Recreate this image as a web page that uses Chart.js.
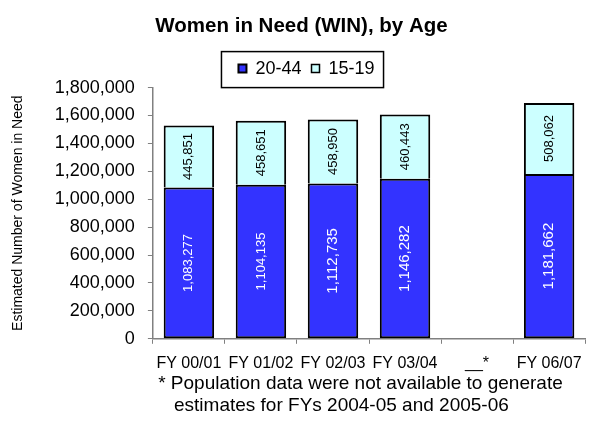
<!DOCTYPE html>
<html>
<head>
<meta charset="utf-8">
<script src="https://cdn.jsdelivr.net/npm/chart.js@4"></script>
<style>
  html, body { margin: 0; padding: 0; background: #fff; }
  #wrap { width: 592px; height: 421px; }
</style>
</head>
<body>
<div id="wrap"><canvas id="chart"></canvas></div>
<script>
const categories = ["FY 00/01", "FY 01/02", "FY 02/03", "FY 03/04", "__*", "FY 06/07"];
const age2044 = [1083277, 1104135, 1112735, 1146282, null, 1181662];
const age1519 = [445851, 458651, 458950, 460443, null, 508062];
const yTicks = [0, 200000, 400000, 600000, 800000, 1000000, 1200000, 1400000, 1600000, 1800000];
const footnote = [" * Population data were not available to generate", "    estimates for FYs 2004-05 and 2005-06"];

const FONT = '"Liberation Sans", Arial, sans-serif';
const fmt = v => v.toLocaleString("en-US");

// label sizes differ a bit per bar in the original
const labelSizes = [[13, 13, 15, 15, 0, 15], [13, 13, 13, 13, 0, 13]];
const labelColors = ["#ffffff", "#000000"];

const valueLabels = {
  id: "valueLabels",
  afterDatasetsDraw(chart) {
    const ctx = chart.ctx;
    chart.data.datasets.forEach((ds, di) => {
      chart.getDatasetMeta(di).data.forEach((bar, i) => {
        const v = ds.data[i];
        if (v == null) return;
        ctx.save();
        ctx.translate(bar.x, (bar.y + bar.base) / 2);
        ctx.rotate(-Math.PI / 2);
        ctx.font = labelSizes[di][i] + "px " + FONT;
        ctx.fillStyle = labelColors[di];
        ctx.textAlign = "center";
        ctx.textBaseline = "middle";
        ctx.fillText(fmt(v), 0, 0);
        ctx.restore();
      });
    });
  }
};

// title and legend sit a little right of the canvas centre in the original
const nudge = {
  id: "nudge",
  afterLayout(chart) {
    const t = chart.titleBlock, lg = chart.legend;
    if (t) { t.left += 8; t.right += 8; }
    if (lg) { lg.left += 13; lg.right += 13; }
  }
};

const legendFrame = {
  id: "legendFrame",
  afterDraw(chart) {
    const lg = chart.legend;
    if (!lg || !lg.legendHitBoxes.length) return;
    const boxes = lg.legendHitBoxes;
    const left = Math.min(...boxes.map(b => b.left)) - 17;
    const right = Math.max(...boxes.map(b => b.left + b.width)) + 9;
    const ctx = chart.ctx;
    ctx.save();
    ctx.strokeStyle = "#000";
    ctx.lineWidth = 1.5;
    ctx.strokeRect(left, lg.top + 2, right - left, lg.bottom - lg.top - 2);
    ctx.restore();
  }
};

new Chart(document.getElementById("chart"), {
  type: "bar",
  data: {
    labels: categories,
    datasets: [
      {
        label: "20-44",
        data: age2044,
        backgroundColor: "#3333ff",
        borderColor: "#000",
        borderWidth: 2,
        borderSkipped: false,
      },
      {
        label: "15-19",
        data: age1519,
        backgroundColor: "#ccffff",
        borderColor: "#000",
        borderWidth: { top: 2, left: 2, right: 2, bottom: 0 },
        borderSkipped: false,
      },
    ],
  },
  options: {
    responsive: true,
    maintainAspectRatio: false,
    animation: false,
    devicePixelRatio: 1,
    layout: { padding: { left: 0, right: 5, top: 0, bottom: 1 } },
    datasets: { bar: { categoryPercentage: 1, barPercentage: 0.7 } },
    plugins: {
      title: {
        display: true,
        text: "Women in Need (WIN), by Age",
        color: "#000",
        font: { family: FONT, size: 20.5, weight: "bold" },
        padding: { top: 14, bottom: 11 },
      },
      legend: {
        position: "top",
        labels: {
          color: "#000",
          font: { family: FONT, size: 18 },
          boxWidth: 8,
          boxHeight: 8,
          padding: 10,
        },
      },
      tooltip: { enabled: false },
    },
    scales: {
      x: {
        stacked: true,
        grid: { drawOnChartArea: false, offset: true, tickLength: 5, color: "#808080" },
        border: { color: "#808080", width: 1.5 },
        ticks: { color: "#000", font: { family: FONT, size: 16 }, padding: 10, maxRotation: 0, autoSkip: false },
        title: {
          display: true,
          text: footnote,
          align: "start",
          color: "#000",
          font: { family: FONT, size: 19, lineHeight: "22px" },
          padding: { top: -10, bottom: 3 },
        },
      },
      y: {
        stacked: true,
        min: 0,
        max: 1800000,
        afterBuildTicks: s => { s.ticks = yTicks.map(v => ({ value: v })); },
        grid: { drawOnChartArea: false, tickLength: 5, color: "#808080" },
        border: { color: "#808080", width: 1.5 },
        ticks: { color: "#000", font: { family: FONT, size: 18 }, padding: 13, callback: v => fmt(v) },
        title: {
          display: true,
          text: "Estimated Number of Women in Need",
          color: "#000",
          font: { family: FONT, size: 14 },
          padding: { top: 10, bottom: 15 },
        },
      },
    },
  },
  plugins: [valueLabels, nudge, legendFrame],
});
</script>
</body>
</html>
